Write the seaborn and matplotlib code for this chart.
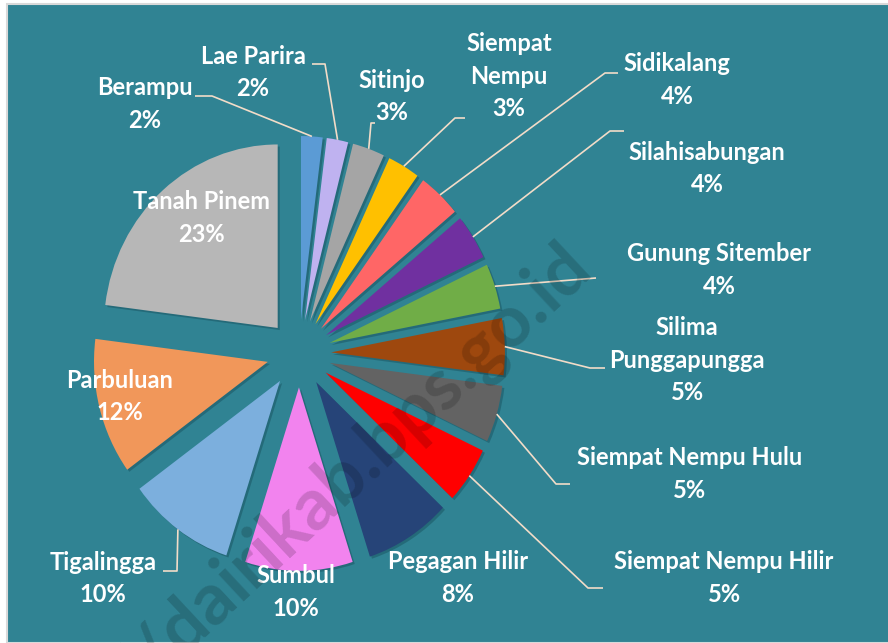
import matplotlib
matplotlib.use('Agg')
import matplotlib.pyplot as plt
import matplotlib.patheffects as pe
from matplotlib.patches import Rectangle
import seaborn as sns
import numpy as np

# data
kecamatan = ['Berampu', 'Lae Parira', 'Sitinjo', 'Siempat\nNempu', 'Sidikalang',
             'Silahisabungan', 'Gunung Sitember', 'Silima\nPunggapungga',
             'Siempat Nempu Hulu', 'Siempat Nempu Hilir', 'Pegagan Hilir',
             'Sumbul', 'Tigalingga', 'Parbuluan', 'Tanah Pinem']
persen = [2, 2, 3, 3, 4, 4, 4, 5, 5, 5, 8, 10, 10, 12, 23]
warna = ['#5B9BD5', '#BFB2F0', '#A5A5A5', '#FFC000', '#FF6666', '#7030A0',
         '#70AD47', '#9E480E', '#636363', '#FF0000', '#264478', '#F283EE',
         '#7CAFDD', '#F1975A', '#B7B7B7']

# layout: label centre x, first baseline y (pixels from top-left)
posisi_label = [(145, 95), (253, 64), (392, 88), (509, 51), (677, 71),
                (707, 160), (719, 261), (687, 335), (690, 465), (724, 569),
                (458, 569), (296, 583), (103, 570), (120, 388), (201, 209)]
# leader lines: points from label side towards the slice (pixels)
garis_label = [[(195, 96), (212, 96)], [(312, 64), (325, 64)],
               [(375, 123), (371, 123)], [(465, 118), (455, 118)],
               [(618, 73), (605, 73)], [(624, 131), (610, 131)],
               [(596, 278)], [(605, 368), (590, 368)],
               [(570, 484), (556, 484)], [(603, 588), (588, 588)],
               None, None, [(163, 571), (177, 571)], None, None]

sns.set_theme(style='white')
plt.rcParams['font.family'] = ['Lato', 'DejaVu Sans']

W, H = 888, 643
fig = plt.figure(figsize=(W / 100, H / 100), dpi=100, facecolor='white')
fig.add_artist(Rectangle((7 / W, 0), 1, 1 - 4 / H, transform=fig.transFigure,
                         facecolor='#308393', edgecolor='#D9D9D9', lw=1.5, zorder=-5))

ax = fig.add_axes([0, 0, 1, 1])
ax.patch.set_visible(False)
wedges, _ = ax.pie(persen, colors=sns.color_palette(warna), startangle=90,
                   counterclock=False, explode=[0.185] * len(persen),
                   wedgeprops=dict(linewidth=0))
for w in wedges:
    w.set_path_effects([pe.SimplePatchShadow(offset=(1.5, -1.5), shadow_rgbFace='#1B5764', alpha=0.55),
                        pe.Normal()])
ax.set_aspect('auto')
ax.set_xlim(-1.720, 3.389)
ax.set_ylim(-1.578, 1.926)
ax.axis('off')

inv = ax.transData.inverted()


def px(x, y):
    return inv.transform((x, H - y))


for i, w in enumerate(wedges):
    # label text
    x, y = posisi_label[i]
    baris = kecamatan[i].split('\n') + [f'{persen[i]}%']
    for k, t in enumerate(baris):
        fig.text(x / W, 1 - (y + 32.5 * k) / H, t, ha='center', va='baseline',
                 color='white', fontsize=17, fontweight='bold')
    # leader line
    if garis_label[i] is not None:
        th = np.deg2rad((w.theta1 + w.theta2) / 2)
        cx, cy = w.center
        ujung = (cx + w.r * np.cos(th), cy + w.r * np.sin(th))
        pts = [px(*p) for p in garis_label[i]] + [ujung]
        pts = np.array(pts)
        ax.plot(pts[:, 0], pts[:, 1], color='#F2DCC8', lw=1.2, solid_capstyle='butt')

# watermark
fig.text(594 / W, 1 - 270 / H, 'https://dairikab.bps.go.id', rotation=43,
         rotation_mode='anchor', ha='right', va='baseline', fontsize=52,
         fontweight='bold', color='black', alpha=0.16)

fig.savefig('out.png', dpi=100, facecolor='white')
